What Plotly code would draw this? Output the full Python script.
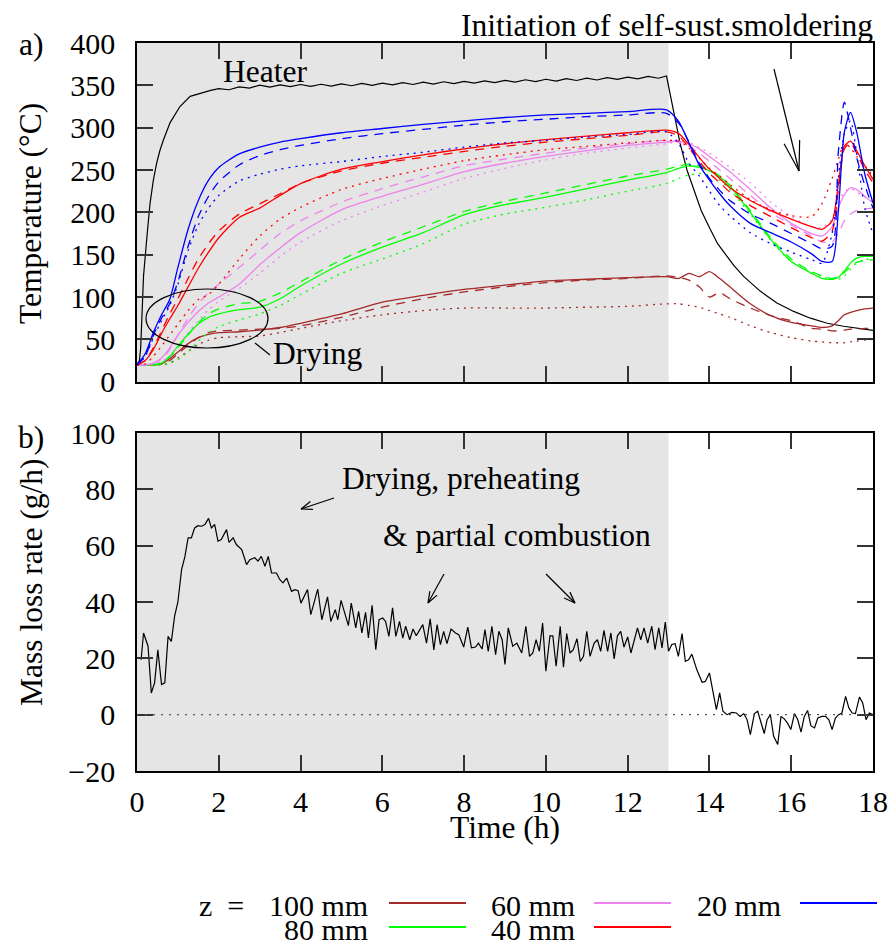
import math
import plotly.graph_objects as go

FONT = "Liberation Serif"

# ---------------- data ----------------
# heater temperature
heater_t = [0, 0.06, 0.09, 0.16, 0.25, 0.32, 0.40, 0.48, 0.56, 0.65, 0.81, 1.05, 1.30, 1.50, 1.62, 1.80,
            2.00, 2.25, 2.50, 2.75, 3.00, 3.25, 3.50, 3.75, 4.00, 4.25, 4.50, 4.75, 5.00, 5.25, 5.50, 5.75,
            6.00, 6.25, 6.50, 6.75, 7.00, 7.25, 7.50, 7.75, 8.00, 8.25, 8.50, 8.75, 9.00, 9.25, 9.50, 9.75,
            10.00, 10.25, 10.50, 10.75, 11.00, 11.25, 11.50, 11.75, 12.00, 12.25, 12.50, 12.75, 12.95,
            13.12, 13.28, 13.45, 13.61, 13.80, 14.02, 14.20, 14.43, 14.60, 14.83, 15.24, 15.65, 16.06,
            16.47, 16.88, 17.28, 17.60, 18.00]
heater_T = [20, 25, 40, 125, 175, 211, 238, 258, 273, 286, 306, 325, 337, 340, 342, 344,
            346.2, 344.8, 348.2, 346.8, 350.2, 348.0, 350.6, 348.4, 351.0, 348.7, 351.3, 349.1, 351.7, 349.5, 352.2, 350.0,
            352.7, 350.5, 353.2, 351.0, 353.7, 351.5, 354.2, 352.0, 354.7, 352.6, 355.3, 353.2, 355.9, 353.8, 356.6, 354.5,
            357.2, 355.1, 357.8, 355.7, 358.4, 356.3, 359.1, 357.0, 359.7, 357.7, 360.5, 358.4, 361,
            321, 282, 250, 227, 202, 180, 163, 148, 137, 124.6, 107, 93, 83,
            75, 69, 65.5, 63, 60.7]

# common time grid of the thermocouple readings (h)
t_probe = [0, 0.2, 0.4, 0.6, 0.8, 1.0, 1.25, 1.5, 1.75, 2.0, 2.5, 3.0, 3.5, 4.0, 5.0, 6.0, 7.0, 8.0, 9.0,
           10.0, 11.0, 12.0, 12.95, 13.25, 13.5, 13.75, 14.0, 14.25, 14.5, 15.0, 15.5, 16.0, 16.5, 16.75,
           17.0, 17.15, 17.3, 17.45, 17.6, 17.8, 18.0]

# z = 20 mm (blue)
z20_solid = [20, 33, 58, 79, 97, 135, 180, 214, 238, 253, 269, 277, 283, 287, 294, 299, 304, 308, 312,
             315, 317, 319, 321, 307, 282, 256, 238, 222, 208, 187, 176, 165, 151, 142,
             142, 200, 295, 318, 295, 245, 211]
z20_dash = [20, 30, 55, 75, 92, 118, 160, 195, 219, 236, 256, 267, 274, 279, 287, 293, 298, 303, 307,
            310, 313, 315, 317, 305, 283, 258, 240, 226, 214, 198, 187, 175, 163, 157,
            160, 270, 330, 300, 265, 232, 205]
z20_dot = [20, 30, 52, 72, 90, 115, 155, 185, 205, 220, 237, 245, 251, 255, 260, 266, 271, 277, 282,
           285, 289, 292, 295, 281, 258, 243, 225, 208, 196, 176, 163, 153, 144, 140,
           175, 240, 293, 308, 270, 205, 175]
# z = 40 mm (red)
z40_solid = [20, 25, 38, 57, 74, 90, 112, 134, 153, 170, 194, 205, 220, 234, 251, 260, 268, 275, 281,
             286, 290, 294, 297, 293, 280, 265, 251, 240, 229, 214, 202, 192, 183, 180,
             190, 232, 278, 284, 273, 255, 239]
z40_dash = [20, 25, 40, 60, 80, 98, 122, 145, 163, 178, 198, 210, 222, 234, 249, 258, 265, 272, 278,
            283, 287, 291, 295, 290, 276, 260, 246, 235, 224, 208, 195, 182, 170, 166,
            178, 225, 275, 282, 270, 250, 235]
z40_dot = [20, 21, 30, 42, 55, 68, 84, 97, 103, 115, 145, 172, 192, 206, 227, 240, 251, 261, 268,
           274, 278, 282, 285, 284, 276, 264, 252, 243, 233, 215, 203, 196, 195, 210,
           240, 262, 282, 276, 266, 255, 243]
# z = 60 mm (violet)
z60_solid = [20, 20, 22, 28, 40, 55, 70, 83, 93, 100, 115, 138, 158, 176, 203, 219, 233, 248, 258,
             266, 273, 279, 283, 284, 281, 275, 266, 257, 248, 227, 205, 187, 175, 172,
             183, 205, 221, 229, 227, 219, 211]
z60_dash = [20, 20, 22, 27, 38, 55, 75, 92, 105, 115, 135, 155, 175, 190, 212, 228, 242, 255, 263,
            270, 276, 281, 285, 283, 278, 270, 260, 250, 240, 220, 200, 185, 172, 165,
            165, 175, 190, 198, 202, 204, 205]
z60_dot = [20, 20, 21, 24, 30, 42, 58, 72, 85, 95, 110, 128, 148, 165, 190, 208, 224, 240, 252,
           262, 270, 276, 281, 283, 282, 277, 270, 262, 253, 235, 212, 195, 183, 182,
           192, 210, 224, 228, 224, 218, 212]
# z = 80 mm (green)
z80_solid = [20, 20, 20, 22, 30, 42, 56, 68, 76, 80, 85, 88, 98, 113, 139, 159, 176, 197, 209,
             218, 228, 238, 247, 252, 255, 253, 249, 242, 231, 200, 168, 142, 128, 122,
             121, 123, 131, 140, 146, 148, 148]
z80_dash = [20, 20, 20, 22, 29, 40, 55, 70, 80, 86, 92, 95, 105, 118, 144, 165, 183, 201, 213,
            223, 233, 243, 251, 255, 257, 255, 250, 243, 232, 202, 170, 145, 130, 125,
            122, 124, 129, 136, 141, 143, 144]
z80_dot = [20, 20, 20, 20, 22, 26, 35, 48, 58, 65, 73, 80, 90, 103, 128, 145, 163, 186, 198,
           206, 215, 225, 234, 240, 244, 246, 244, 238, 227, 198, 167, 142, 129, 124,
           121, 121, 125, 133, 140, 144, 146]
# z = 100 mm (brown)
z100_solid = [20, 20, 20, 21, 27, 35, 45, 52, 56, 58, 59, 61, 64, 69, 80, 94, 102, 109, 114,
              119, 121, 123, 124, 122, 128, 124, 130, 122, 112, 92, 78, 70, 66, 64,
              66, 72, 79, 82, 84, 86, 87]
z100_dash = [20, 20, 20, 21, 25, 33, 43, 52, 58, 60, 61, 62, 63, 66, 76, 88, 98, 106, 112,
             117, 120, 122, 125, 123, 120, 112, 100, 105, 98, 87, 78, 72, 63, 62,
             60, 60, 61, 62, 62, 63, 63]
z100_dot = [20, 20, 20, 20, 22, 28, 36, 44, 49, 52, 53, 54, 58, 63, 72, 79, 84, 87, 87,
            87, 88, 89, 92, 92, 90, 88, 84, 80, 76, 66, 58, 52, 48, 47,
            46, 46, 46, 47, 48, 49, 50]

# mass loss rate (g/h)
mlr_t = [0.10, 0.16, 0.27, 0.35, 0.43, 0.51, 0.60, 0.68, 0.76, 0.84, 0.92, 1.00, 1.09, 1.17, 1.25, 1.33,
         1.41, 1.49, 1.58, 1.66, 1.75, 1.82, 1.90, 1.98, 2.06, 2.19, 2.25, 2.35, 2.43, 2.56, 2.68, 2.76,
         2.88, 2.96, 3.04, 3.13, 3.21, 3.29, 3.41, 3.49, 3.57, 3.66, 3.78, 3.86, 3.94,
         4.01, 4.17, 4.25, 4.42, 4.52, 4.66, 4.74, 4.85, 4.91, 4.99, 5.09, 5.17, 5.24, 5.35, 5.42, 5.50,
         5.59, 5.66, 5.75, 5.84, 5.92, 6.01, 6.08, 6.16, 6.25, 6.33, 6.42, 6.50, 6.57, 6.67, 6.75, 6.83,
         6.91, 6.99, 7.08, 7.17, 7.26, 7.34, 7.42, 7.50, 7.58, 7.68, 7.79, 7.87, 7.99, 8.09, 8.18, 8.28,
         8.35, 8.44, 8.51, 8.59, 8.68, 8.77, 8.85, 8.93, 9.00,
         9.08, 9.19, 9.29, 9.41, 9.51, 9.60, 9.68, 9.76, 9.84, 9.92, 10.00, 10.10, 10.17, 10.25, 10.35,
         10.43, 10.51, 10.59, 10.67, 10.76, 10.84, 10.92, 11.00, 11.08, 11.18, 11.26, 11.34, 11.42, 11.51,
         11.59, 11.67, 11.75, 11.83, 11.91, 12.00, 12.08, 12.16, 12.24, 12.32, 12.40, 12.49, 12.59, 12.67,
         12.76, 12.84, 12.92, 13.00, 13.08, 13.16, 13.24, 13.33, 13.41, 13.49, 13.57, 13.69, 13.82, 13.90,
         14.00, 14.10, 14.17, 14.25, 14.33, 14.43, 14.55, 14.66, 14.75, 14.84, 14.92, 15.00, 15.10, 15.18,
         15.26, 15.34, 15.41, 15.49, 15.57, 15.67, 15.75, 15.83, 15.91, 15.99, 16.08, 16.16, 16.24, 16.32,
         16.40, 16.48, 16.57, 16.65, 16.75, 16.84, 16.92, 17.00, 17.08, 17.16, 17.24, 17.33, 17.41, 17.49,
         17.57, 17.67, 17.75, 17.83, 17.91, 18.00]
mlr_v = [19.5, 29, 24.3, 7.7, 11.3, 23, 10.7, 11.3, 27.8, 26, 35, 40, 51.5, 56, 62.8, 62.8,
         66.3, 67.1, 66.9, 67.5, 69.7, 66.3, 67.5, 61.6, 62.2, 65.7, 61.2, 62.8, 60.4, 58.6, 53.3, 55,
         55.7, 54.5, 56.2, 52.7, 56.2, 50.3, 50.3, 48, 46.8, 48.5, 43.8, 44.4, 44,
         39.6, 44.4, 35.5, 44.6, 33.7, 41.8, 33.1, 37.3, 33.7, 40.6, 35.5, 31.6, 39.6, 30.8, 36.7, 29,
         36.3, 27.2, 38.8, 23.1, 33.7, 34.3, 33.1, 27.8, 37.9, 27.8, 33.1, 27.2, 31.4, 26.6, 30.4, 28,
         30, 32, 25.4, 34, 23, 32, 24.9, 29.6, 25.2, 30.4, 29, 28.4, 24, 31.1, 23.7, 24,
         25.4, 23.3, 30.2, 22.5, 31.4, 21.3, 29.6, 26.6, 17.8,
         30.8, 24.3, 25.4, 21.9, 31.4, 20.7, 21.9, 26.6, 22.5, 32.5, 15.4, 28, 28, 17.2, 31.4,
         16.9, 28.8, 21.9, 23.1, 27, 18.9, 20.7, 29.6, 20.7, 25.4, 26.6, 22.5, 29.9, 22.5,
         29, 19.8, 28, 29.6, 24, 27.6, 21.9, 26.6, 30.8, 26.6, 30.8, 25.4, 31.4, 23.1,
         30.8, 23.7, 32.9, 22.5, 24.9, 25.2, 20.7, 28.8, 18.9, 19.5, 21.5, 16, 11.5, 11.8,
         14.8, 7.1, 1.8, 7.7, 1.2, 0, 0.8, 0.6, -0.6, 0.4, -1.8, -7.1, 0.4, 1.2,
         -2.4, -6.7, -1.8, 0, -7.7, -10.6, -0.6, -1.5, -3, -5.3, 0.4, -1.8, -6.2, -0.6,
         1.5, -3.9, -4.7, -1.2, -0.6, -0.6, -1.8, -5.3, -1.2, 0, 0.6, 6.5, 2.4, 0.6,
         0.4, 6.3, 4.1, -1.8, 0.6, 0]

COL = {"20": "#0000ff", "40": "#ff0000", "60": "#ee82ee", "80": "#00ff00", "100": "#a52a2a"}
DASH = "9px,7px"
DOT = "2px,5px"

# ---------------- geometry helpers (pixel -> paper) ----------------
W, H = 895, 943
ML, MR, MT, MB = 137, 22, 43, 172
PW, PH = W - ML - MR, H - MT - MB
TXT = 31.5


def px(x):
    return (x - ML) / PW


def py(y):
    return (H - MB - y) / PH


def seg(x0, y0, x1, y1, width=1.2, color="black", dash="solid"):
    return dict(type="line", xref="paper", yref="paper", x0=px(x0), y0=py(y0), x1=px(x1), y1=py(y1),
                line=dict(color=color, width=width, dash=dash))


def arrow(x0, y0, x1, y1, head=12, ang=18):
    out = [seg(x0, y0, x1, y1)]
    a = math.atan2(y0 - y1, x0 - x1)
    for s in (-1, 1):
        b = a + s * math.radians(ang)
        out.append(seg(x1, y1, x1 + head * math.cos(b), y1 + head * math.sin(b)))
    return out


def ann(text, x, y, size=TXT, xanchor="center", yanchor="middle", angle=0):
    return dict(text=text, x=px(x), y=py(y), xref="paper", yref="paper", showarrow=False,
                xanchor=xanchor, yanchor=yanchor, textangle=angle,
                font=dict(family=FONT, size=size, color="black"))


fig = go.Figure()

# heater
fig.add_trace(go.Scatter(x=heater_t, y=heater_T, mode="lines", line=dict(color="black", width=1.2),
                         xaxis="x", yaxis="y", showlegend=False))

probes = [
    ("100", z100_solid, z100_dash, z100_dot),
    ("80", z80_solid, z80_dash, z80_dot),
    ("60", z60_solid, z60_dash, z60_dot),
    ("40", z40_solid, z40_dash, z40_dot),
    ("20", z20_solid, z20_dash, z20_dot),
]
for key, s, d, o in probes:
    c = COL[key]
    for vals, dash in ((o, DOT), (d, DASH), (s, "solid")):
        fig.add_trace(go.Scatter(x=t_probe, y=vals, mode="lines",
                                 line=dict(color=c, width=1.3, dash=dash, shape="spline", smoothing=0.7),
                                 xaxis="x", yaxis="y", showlegend=False))

fig.add_trace(go.Scatter(x=mlr_t, y=mlr_v, mode="lines", line=dict(color="black", width=1.2),
                         xaxis="x2", yaxis="y2", showlegend=False))

ax = dict(showline=True, linecolor="black", linewidth=1.5, mirror="allticks", ticks="inside",
          ticklen=16, tickwidth=1.5, tickcolor="#333333", showgrid=False, zeroline=False,
          automargin=False, tickfont=dict(family=FONT, size=30, color="black"))

top_bottom = py(381.7)
bot_top = py(433)

fig.update_layout(
    width=W, height=H, margin=dict(l=ML, r=MR, t=MT, b=MB, autoexpand=False),
    paper_bgcolor="white", plot_bgcolor="white",
    xaxis=dict(ax, domain=[0, 1], range=[0, 18], tickvals=list(range(0, 19, 2)), showticklabels=False,
               anchor="y"),
    yaxis=dict(ax, domain=[top_bottom, 1], range=[0, 400], tickvals=list(range(0, 401, 50)),
               ticklabelstandoff=14, anchor="x"),
    xaxis2=dict(ax, domain=[0, 1], range=[0, 18], tickvals=list(range(0, 19, 2)), anchor="y2",
                ticklabelstandoff=3),
    yaxis2=dict(ax, domain=[0, bot_top], range=[-20, 100], tickvals=list(range(-20, 101, 20)),
                ticklabelstandoff=14, anchor="x2"),
)

shapes = [
    dict(type="rect", xref="x", yref="y domain", x0=0, x1=13, y0=0, y1=1, fillcolor="#e5e5e5",
         line=dict(width=0), layer="below"),
    dict(type="rect", xref="x2", yref="y2 domain", x0=0, x1=13, y0=0, y1=1, fillcolor="#e5e5e5",
         line=dict(width=0), layer="below"),
    dict(type="line", xref="x2", yref="y2", x0=0, x1=18, y0=0, y1=0,
         line=dict(color="#555555", width=1.2, dash="2px,6px")),
    # drying ellipse
    dict(type="circle", xref="paper", yref="paper", x0=px(146), x1=px(268), y0=py(348), y1=py(289),
         line=dict(color="black", width=1.2)),
    seg(255, 343, 270, 355),
]
shapes += arrow(774, 69, 799, 171, head=31, ang=15)
shapes += arrow(334, 498, 301, 509, head=12, ang=20)
shapes += arrow(444, 574, 428, 603, head=12, ang=20)
shapes += arrow(546, 574, 575, 603, head=12, ang=20)

annotations = [
    ann("Heater", 265, 72),
    ann("Drying", 317, 353),
    ann("Initiation of self-sust.smoldering", 875, 25, xanchor="right"),
    ann("Drying, preheating", 461, 478),
    ann("&amp; partial combustion", 517, 535),
    ann("a)", 31, 45),
    ann("b)", 31, 437),
    ann("Temperature (°C)", 30, 214, angle=-90),
    ann("Mass loss rate (g/h)", 31, 582, angle=-90),
    ann("Time (h)", 505, 827),
]

# legend (drawn manually)
annotations.append(ann("z  =", 197, 905, size=30, xanchor="left"))
legend_rows = [
    ("100 mm", COL["100"], 370, 389, 466, 905),
    ("60 mm", COL["60"], 577, 594, 671, 905),
    ("20 mm", COL["20"], 783, 800, 877, 905),
    ("80 mm", COL["80"], 370, 389, 466, 929),
    ("40 mm", COL["40"], 577, 594, 671, 929),
]
for label, c, tx, l0, l1, yy in legend_rows:
    annotations.append(ann(label, tx, yy, size=30, xanchor="right"))
    shapes.append(seg(l0, yy - 2, l1, yy - 2, width=1.8, color=c))

fig.update_layout(shapes=shapes, annotations=annotations)

fig.write_html("out.html", config={"displayModeBar": False},
               post_script="document.body.style.margin='0px';")
